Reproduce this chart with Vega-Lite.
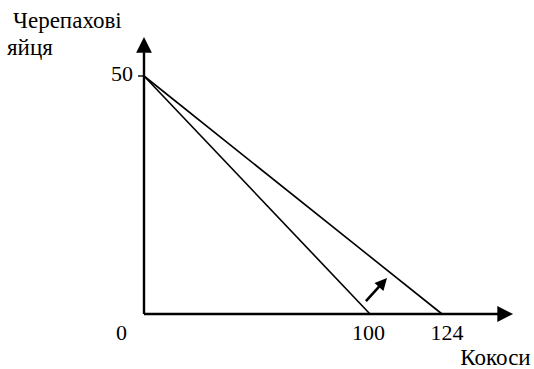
{
  "$schema": "https://vega.github.io/schema/vega-lite/v6.json",
  "width": 534,
  "height": 369,
  "autosize": "none",
  "padding": 0,
  "background": "white",
  "config": {"view": {"stroke": null}},
  "layer": [
    {
      "data": {"values": [
        {"line": "до", "x": 0, "y": 50}, {"line": "до", "x": 100, "y": 0},
        {"line": "після", "x": 0, "y": 50}, {"line": "після", "x": 124, "y": 0}
      ]},
      "mark": {"type": "line", "color": "black", "strokeWidth": 1.6},
      "encoding": {
        "x": {"field": "x", "type": "quantitative", "axis": null, "scale": {"domain": [0, 100, 124, 148], "range": [144, 370, 442, 514]}},
        "y": {"field": "y", "type": "quantitative", "axis": null, "scale": {"domain": [0, 50], "range": [314, 76]}},
        "detail": {"field": "line"}
      }
    },
    {
      "data": {"values": [
        {"x": 0, "y": 0, "x2": 0, "y2": 55},
        {"x": 0, "y": 0, "x2": 143, "y2": 0}
      ]},
      "mark": {"type": "rule", "color": "black", "strokeWidth": 2.4},
      "encoding": {
        "x": {"field": "x", "type": "quantitative", "axis": null, "scale": {"domain": [0, 100, 124, 148], "range": [144, 370, 442, 514]}},
        "y": {"field": "y", "type": "quantitative", "axis": null, "scale": {"domain": [0, 50], "range": [314, 76]}},
        "x2": {"field": "x2"},
        "y2": {"field": "y2"}
      }
    },
    {
      "data": {"values": [{"x": -2.65, "x2": 0, "y": 50}]},
      "mark": {"type": "rule", "color": "black", "strokeWidth": 1.4},
      "encoding": {
        "x": {"field": "x", "type": "quantitative", "axis": null, "scale": {"domain": [0, 100, 124, 148], "range": [144, 370, 442, 514]}},
        "x2": {"field": "x2"},
        "y": {"field": "y", "type": "quantitative", "axis": null, "scale": {"domain": [0, 50], "range": [314, 76]}}
      }
    },
    {
      "data": {"values": [{"x": 0, "y": 58.2}]},
      "mark": {"type": "point", "shape": "M0,0L-1,2L1,2Z", "size": 250, "filled": true, "color": "black", "opacity": 1, "strokeWidth": 0},
      "encoding": {
        "x": {"field": "x", "type": "quantitative", "axis": null, "scale": {"domain": [0, 100, 124, 148], "range": [144, 370, 442, 514]}},
        "y": {"field": "y", "type": "quantitative", "axis": null, "scale": {"domain": [0, 50], "range": [314, 76]}}
      }
    },
    {
      "data": {"values": [{"x": 147.7, "y": 0}]},
      "mark": {"type": "point", "shape": "M0,0L-2,-1L-2,1Z", "size": 250, "filled": true, "color": "black", "opacity": 1, "strokeWidth": 0},
      "encoding": {
        "x": {"field": "x", "type": "quantitative", "axis": null, "scale": {"domain": [0, 100, 124, 148], "range": [144, 370, 442, 514]}},
        "y": {"field": "y", "type": "quantitative", "axis": null, "scale": {"domain": [0, 50], "range": [314, 76]}}
      }
    },
    {
      "data": {"values": [{"x": 98.2, "y": 2.73, "x2": 103.4, "y2": 6.0}]},
      "mark": {"type": "rule", "color": "black", "strokeWidth": 2.6},
      "encoding": {
        "x": {"field": "x", "type": "quantitative", "axis": null, "scale": {"domain": [0, 100, 124, 148], "range": [144, 370, 442, 514]}},
        "y": {"field": "y", "type": "quantitative", "axis": null, "scale": {"domain": [0, 50], "range": [314, 76]}},
        "x2": {"field": "x2"},
        "y2": {"field": "y2"}
      }
    },
    {
      "data": {"values": [{"x": 105.67, "y": 7.56}]},
      "mark": {"type": "point", "shape": "M0,0L-1,2L1,2Z", "size": 144, "angle": 42, "filled": true, "color": "black", "opacity": 1, "strokeWidth": 0},
      "encoding": {
        "x": {"field": "x", "type": "quantitative", "axis": null, "scale": {"domain": [0, 100, 124, 148], "range": [144, 370, 442, 514]}},
        "y": {"field": "y", "type": "quantitative", "axis": null, "scale": {"domain": [0, 50], "range": [314, 76]}}
      }
    },
    {
      "data": {"values": [{"x": 0, "y": 50, "label": "50"}]},
      "mark": {"type": "text", "font": "'Liberation Serif', 'DejaVu Serif', serif", "fontSize": 22, "color": "black", "align": "right", "baseline": "alphabetic", "dx": -11, "dy": 5},
      "encoding": {
        "x": {"field": "x", "type": "quantitative", "axis": null, "scale": {"domain": [0, 100, 124, 148], "range": [144, 370, 442, 514]}},
        "y": {"field": "y", "type": "quantitative", "axis": null, "scale": {"domain": [0, 50], "range": [314, 76]}},
        "text": {"field": "label"}
      }
    },
    {
      "data": {"values": [{"x": 0, "y": 0, "label": "0"}]},
      "mark": {"type": "text", "font": "'Liberation Serif', 'DejaVu Serif', serif", "fontSize": 22, "color": "black", "align": "center", "baseline": "alphabetic", "dx": -22.5, "dy": 26},
      "encoding": {
        "x": {"field": "x", "type": "quantitative", "axis": null, "scale": {"domain": [0, 100, 124, 148], "range": [144, 370, 442, 514]}},
        "y": {"field": "y", "type": "quantitative", "axis": null, "scale": {"domain": [0, 50], "range": [314, 76]}},
        "text": {"field": "label"}
      }
    },
    {
      "data": {"values": [{"x": 100, "y": 0, "label": "100"}]},
      "mark": {"type": "text", "font": "'Liberation Serif', 'DejaVu Serif', serif", "fontSize": 22, "color": "black", "align": "center", "baseline": "alphabetic", "dx": -1.5, "dy": 26},
      "encoding": {
        "x": {"field": "x", "type": "quantitative", "axis": null, "scale": {"domain": [0, 100, 124, 148], "range": [144, 370, 442, 514]}},
        "y": {"field": "y", "type": "quantitative", "axis": null, "scale": {"domain": [0, 50], "range": [314, 76]}},
        "text": {"field": "label"}
      }
    },
    {
      "data": {"values": [{"x": 124, "y": 0, "label": "124"}]},
      "mark": {"type": "text", "font": "'Liberation Serif', 'DejaVu Serif', serif", "fontSize": 22, "color": "black", "align": "center", "baseline": "alphabetic", "dx": 5, "dy": 26},
      "encoding": {
        "x": {"field": "x", "type": "quantitative", "axis": null, "scale": {"domain": [0, 100, 124, 148], "range": [144, 370, 442, 514]}},
        "y": {"field": "y", "type": "quantitative", "axis": null, "scale": {"domain": [0, 50], "range": [314, 76]}},
        "text": {"field": "label"}
      }
    },
    {
      "data": {"values": [{"x": 148, "y": 0, "label": "Кокоси"}]},
      "mark": {"type": "text", "font": "'Liberation Serif', 'DejaVu Serif', serif", "fontSize": 23, "color": "black", "align": "center", "baseline": "alphabetic", "dx": -18.5, "dy": 51},
      "encoding": {
        "x": {"field": "x", "type": "quantitative", "axis": null, "scale": {"domain": [0, 100, 124, 148], "range": [144, 370, 442, 514]}},
        "y": {"field": "y", "type": "quantitative", "axis": null, "scale": {"domain": [0, 50], "range": [314, 76]}},
        "text": {"field": "label"}
      }
    },
    {
      "data": {"values": [{"x": 0, "y": 58.2, "label": "Черепахові"}]},
      "mark": {"type": "text", "font": "'Liberation Serif', 'DejaVu Serif', serif", "fontSize": 23, "color": "black", "align": "left", "baseline": "alphabetic", "dx": -131, "dy": -9},
      "encoding": {
        "x": {"field": "x", "type": "quantitative", "axis": null, "scale": {"domain": [0, 100, 124, 148], "range": [144, 370, 442, 514]}},
        "y": {"field": "y", "type": "quantitative", "axis": null, "scale": {"domain": [0, 50], "range": [314, 76]}},
        "text": {"field": "label"}
      }
    },
    {
      "data": {"values": [{"x": 0, "y": 58.2, "label": "яйця"}]},
      "mark": {"type": "text", "font": "'Liberation Serif', 'DejaVu Serif', serif", "fontSize": 23, "color": "black", "align": "left", "baseline": "alphabetic", "dx": -137, "dy": 18},
      "encoding": {
        "x": {"field": "x", "type": "quantitative", "axis": null, "scale": {"domain": [0, 100, 124, 148], "range": [144, 370, 442, 514]}},
        "y": {"field": "y", "type": "quantitative", "axis": null, "scale": {"domain": [0, 50], "range": [314, 76]}},
        "text": {"field": "label"}
      }
    }
  ]
}
